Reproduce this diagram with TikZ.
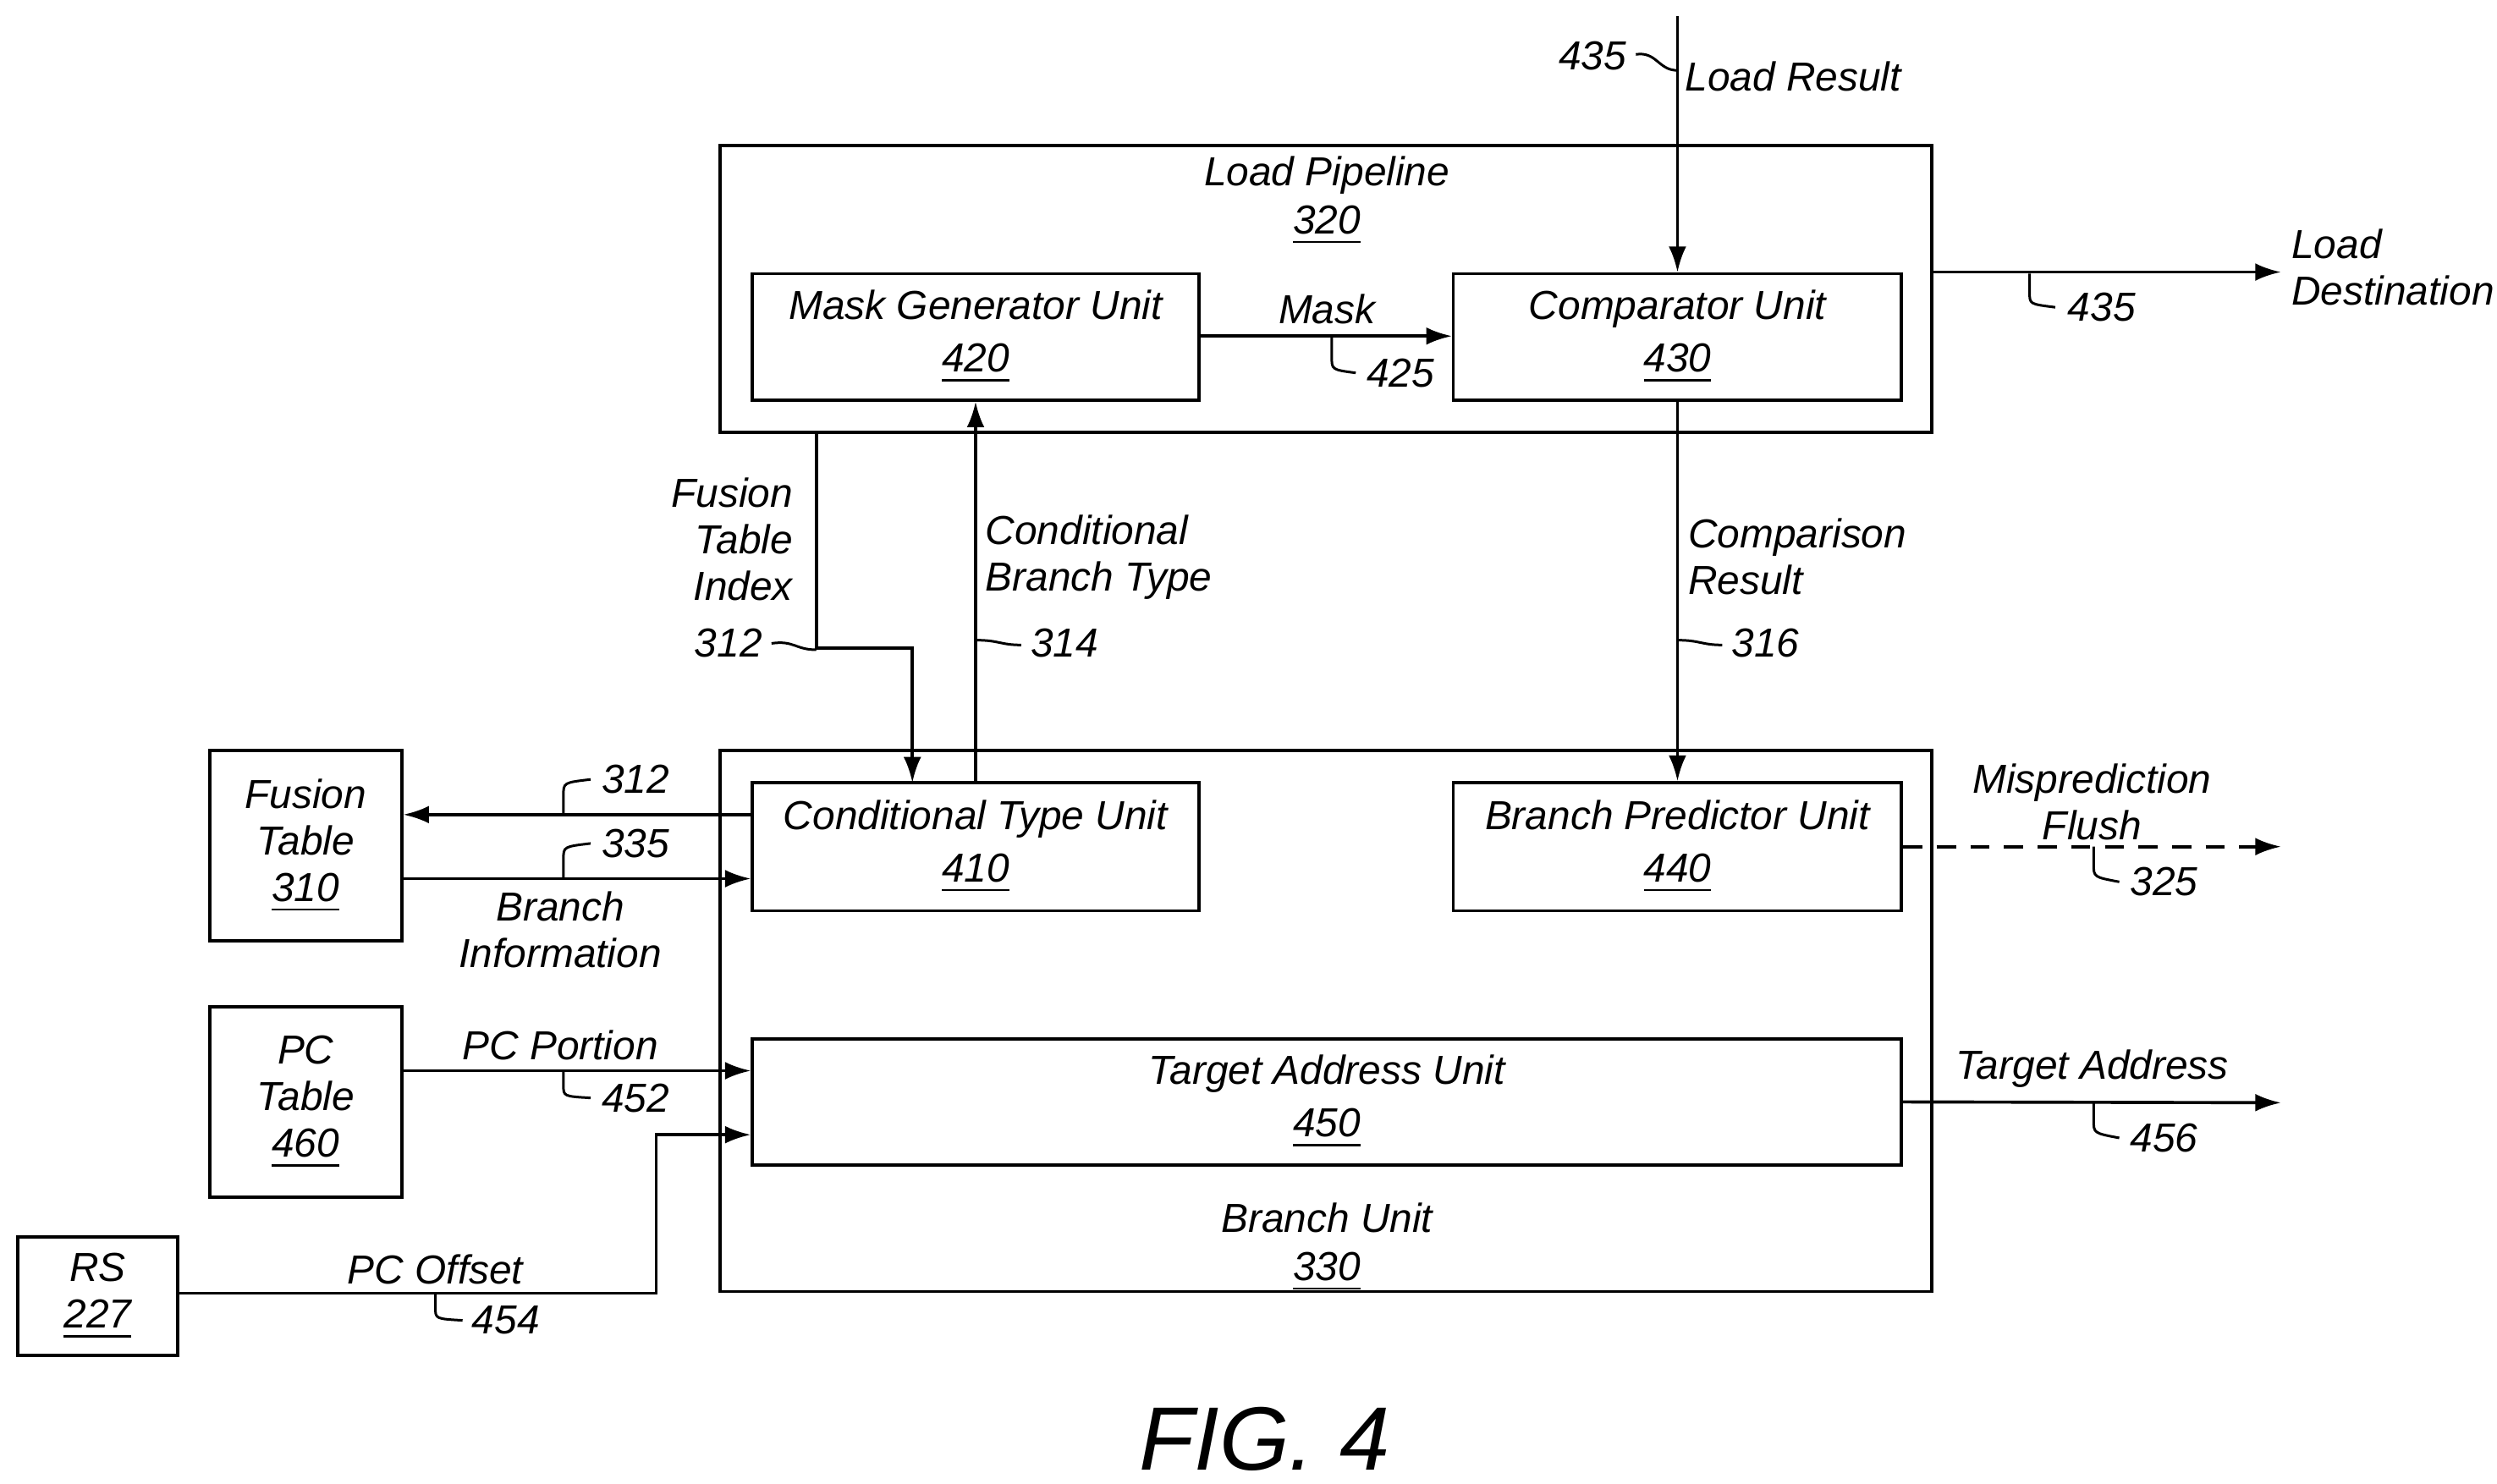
\documentclass[tikz,border=0pt]{standalone}
\usepackage{fontspec}
\setmainfont{Liberation Sans}
\usetikzlibrary{arrows.meta}
\begin{document}
\begin{tikzpicture}[x=0.1mm,y=-0.1mm,
  every node/.style={font=\itshape\fontsize{7.2}{8.3}\selectfont, inner sep=0pt},
  box/.style 2 args={draw, line width=0.55pt, minimum width=#1*0.1mm, minimum height=#2*0.1mm, align=center},
  ln/.style={line width=0.55pt},
  arr/.style={ln,-{Latex[length=1.6mm,width=1.1mm]}},
  ld/.style={line width=0.45pt}]
\useasboundingbox (0,0) rectangle (1560,927);
% boxes
\node[box={757}{179}] (lp) at (828.5,180.5) {};
\node[anchor=base] at (829,116) {Load Pipeline};
\node[anchor=base] at (829,146) {\underline{320}};
\node[box={279}{79}] (mg) at (609.5,210.5) {Mask Generator Unit\\[1pt]\underline{420}};
\node[box={280}{79}] (cu) at (1048,210.5) {Comparator Unit\\[1pt]\underline{430}};
\node[box={757}{338}] (bu) at (828.5,638) {};
\node[anchor=base] at (829,770) {Branch Unit};
\node[anchor=base] at (829,800) {\underline{330}};
\node[box={279}{80}] (ct) at (609.5,529) {Conditional Type Unit\\[1pt]\underline{410}};
\node[box={280}{80}] (bp) at (1048,529) {Branch Predictor Unit\\[1pt]\underline{440}};
\node[box={718}{79}] (ta) at (829,688.5) {Target Address Unit\\[1pt]\underline{450}};
\node[box={120}{119}] (ft) at (191,528.5) {Fusion\\Table\\\underline{310}};
\node[box={120}{119}] (pc) at (191,688.5) {PC\\Table\\\underline{460}};
\node[box={100}{74}] (rs) at (61,810) {RS\\\underline{227}};
% coordinates
\coordinate (lrtop) at (1048,10);
\coordinate (ldend) at (1425,170);
\coordinate (mfend) at (1425,529);
\coordinate (taend) at (1425,689);
% connectors
\draw[arr] (mg.east |- 0,210) -- (cu.west |- 0,210);
\node at (829,193) {Mask};
\draw[arr] (lrtop) -- (cu.north);
\node[anchor=west] at (1052,48) {Load Result};
\draw[arr] (lp.east |- 0,170) -- (ldend);
\node[anchor=west,align=left] at (1431,167) {Load\\Destination};
\draw[arr] (510,270) -- (510,405) -- (570,405) -- (570,489);
\node[align=right,anchor=east] at (496,337) {Fusion\\Table\\Index};
\draw[arr] (ct.north) -- (mg.south);
\node[align=left,anchor=west] at (615,348) {Conditional\\Branch Type};
\draw[arr] (cu.south) -- (bp.north);
\node[align=left,anchor=west] at (1054,348) {Comparison\\Result};
\draw[arr] (ct.west |- 0,509) -- (ft.east |- 0,509);
\draw[arr] (ft.east |- 0,549) -- (ct.west |- 0,549);
\node[align=center] at (350,581) {Branch\\Information};
\draw[arr] (pc.east |- 0,669) -- (ta.west |- 0,669);
\node at (350,653) {PC Portion};
\draw[arr] (rs.east |- 0,808) -- (410,808) -- (410,709) -- (ta.west |- 0,709);
\node at (272,793) {PC Offset};
\draw[ln,dash pattern=on 1.2mm off 0.9mm,-{Latex[length=1.6mm,width=1.1mm]}] (bp.east) -- (mfend);
\node[align=center] at (1307,501) {Misprediction\\Flush};
\draw[arr] (ta.east) -- (taend);
\node at (1307,668) {Target Address};
% reference numerals with leaders
\node at (995,35) {435};
\draw[ld] (1022,34) .. controls (1035,32) and (1036,44) .. (1048,44);
\node at (1313,192) {435};
\draw[ld] (1268,171) -- (1268,183) .. controls (1268,190) .. (1284,192);
\node at (875,233) {425};
\draw[ld] (832,211) -- (832,223) .. controls (832,231) .. (847,233);
\node at (455,402) {312};
\draw[ld] (482,402) .. controls (496,400) and (497,406) .. (510,406);
\node at (665,402) {314};
\draw[ld] (610,400) .. controls (624,400) and (625,403) .. (638,403);
\node at (1103,402) {316};
\draw[ld] (1048,400) .. controls (1062,400) and (1063,403) .. (1076,403);
\node at (397,487) {312};
\draw[ld] (352,509) -- (352,497) .. controls (352,489) .. (369,487);
\node at (397,527) {335};
\draw[ld] (352,549) -- (352,537) .. controls (352,529) .. (369,527);
\node at (397,686) {452};
\draw[ld] (352,669) -- (352,678) .. controls (352,685) .. (369,686);
\node at (316,825) {454};
\draw[ld] (272,808) -- (272,817) .. controls (272,824) .. (289,825);
\node at (1352,551) {325};
\draw[ld] (1308,529) -- (1308,540) .. controls (1308,548) .. (1324,551);
\node at (1352,711) {456};
\draw[ld] (1308,689) -- (1308,700) .. controls (1308,708) .. (1324,711);
% caption
\node[font=\itshape\fontsize{16}{18}\selectfont] (fig) at (790,899) {FIG. 4};
\end{tikzpicture}
\end{document}
